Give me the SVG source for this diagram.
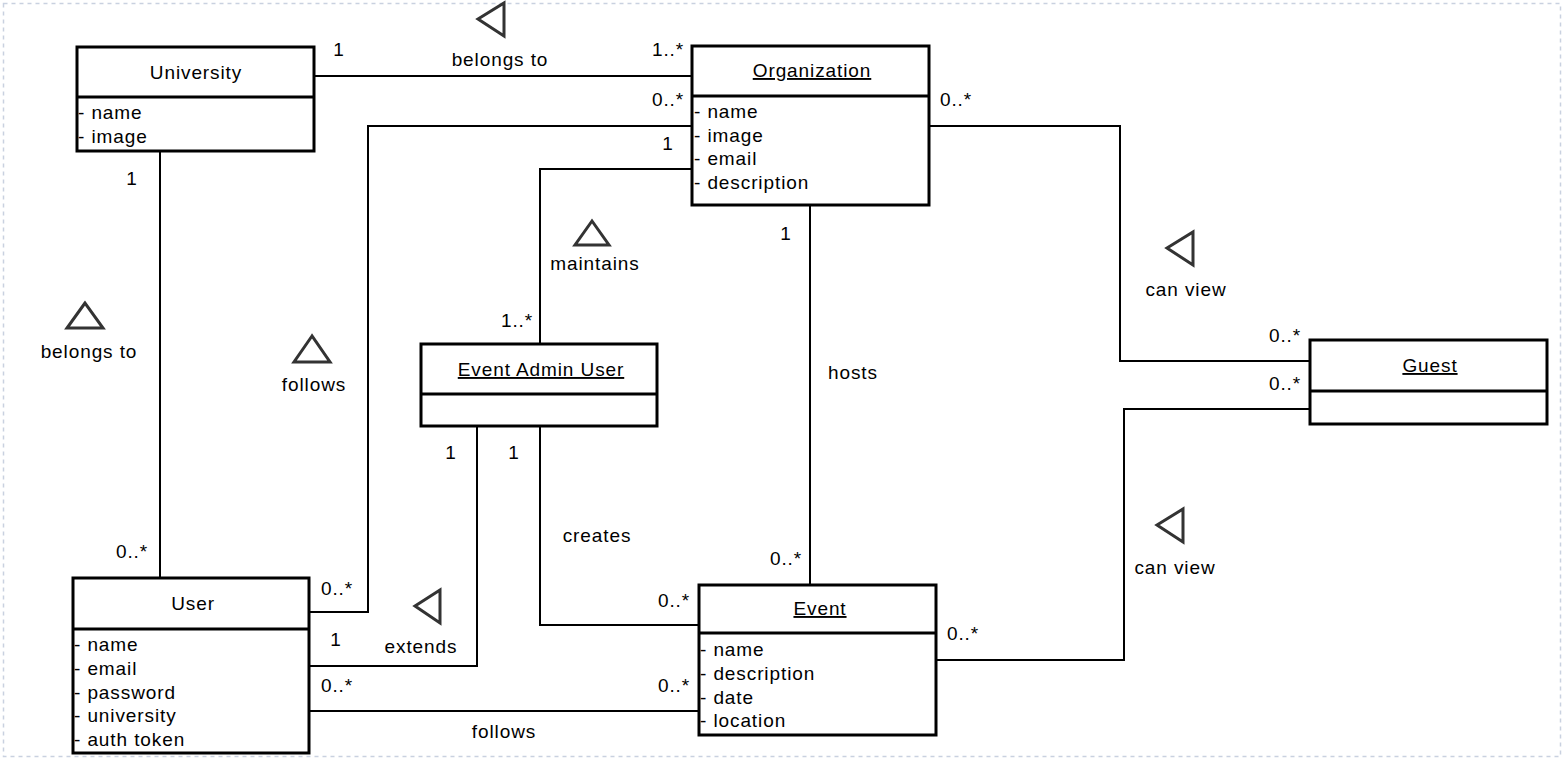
<svg xmlns="http://www.w3.org/2000/svg" width="1565" height="762" viewBox="0 0 1565 762">
<style>
.box{fill:#fff;stroke:#000;stroke-width:3}
.div{stroke:#000;stroke-width:3}
.t{font-family:"Liberation Sans",Arial,sans-serif;font-size:19px;fill:#000;letter-spacing:0.9px}
.c{text-anchor:middle}
.u{text-decoration:underline}
.ln{fill:none;stroke:#000;stroke-width:2}
.tri{fill:#fff;stroke:#333;stroke-width:3;stroke-linejoin:miter}
</style>
<rect x="3.5" y="3.5" width="1557" height="753" fill="none" stroke="#c9d1e0" stroke-width="1.5" stroke-dasharray="4 4"/>
<g id="connectors">
<path class="ln" d="M314 76 H692"/>
<path class="ln" d="M160 152 V578"/>
<path class="ln" d="M310 612 H368 V126 H692"/>
<path class="ln" d="M692 169 H540 V344"/>
<path class="ln" d="M810 205 V585"/>
<path class="ln" d="M929 126 H1120 V361 H1310"/>
<path class="ln" d="M1310 409 H1124 V660 H936"/>
<path class="ln" d="M477 426 V666 H310"/>
<path class="ln" d="M540 426 V625 H699"/>
<path class="ln" d="M310 711 H699"/>
<polygon class="tri" points="478,19 504,3 504,36"/>
<polygon class="tri" points="85,303 67,328 103,328"/>
<polygon class="tri" points="312,336 294,362 330,362"/>
<polygon class="tri" points="592,221 575,245 609,245"/>
<polygon class="tri" points="1167,248 1193,232 1193,265"/>
<polygon class="tri" points="1157,525 1183,509 1183,542"/>
<polygon class="tri" points="415,606 440,590 440,623"/>
<g class="t c">
<text x="339" y="56">1</text>
<text x="500" y="66">belongs to</text>
<text x="668" y="56">1..*</text>
<text x="668" y="106">0..*</text>
<text x="668" y="150">1</text>
<text x="956" y="106">0..*</text>
<text x="132" y="185">1</text>
<text x="89" y="358">belongs to</text>
<text x="314" y="391">follows</text>
<text x="595" y="270">maintains</text>
<text x="517" y="327">1..*</text>
<text x="786" y="240">1</text>
<text x="853" y="379">hosts</text>
<text x="1186" y="296">can view</text>
<text x="1285" y="342">0..*</text>
<text x="1285" y="390">0..*</text>
<text x="451" y="459">1</text>
<text x="514" y="459">1</text>
<text x="597" y="542">creates</text>
<text x="786" y="565">0..*</text>
<text x="1175" y="574">can view</text>
<text x="132" y="558">0..*</text>
<text x="337" y="595">0..*</text>
<text x="674" y="607">0..*</text>
<text x="336" y="646">1</text>
<text x="421" y="653">extends</text>
<text x="963" y="640">0..*</text>
<text x="337" y="692">0..*</text>
<text x="674" y="692">0..*</text>
<text x="504" y="738">follows</text>
</g>
</g>
<g id="University">
<rect class="box" x="77" y="47" width="237" height="104"/>
<line class="div" x1="77" y1="97" x2="314" y2="97"/>
<text class="t c" x="196" y="79">University</text>
<text class="t" x="78" y="119">- name</text>
<text class="t" x="78" y="143">- image</text>
</g>
<g id="Organization">
<rect class="box" x="692" y="46" width="237" height="159"/>
<line class="div" x1="692" y1="96" x2="929" y2="96"/>
<text class="t c u" x="812" y="77">Organization</text>
<text class="t" x="694" y="118">- name</text>
<text class="t" x="694" y="142">- image</text>
<text class="t" x="694" y="165">- email</text>
<text class="t" x="694" y="189">- description</text>
</g>
<g id="EventAdminUser">
<rect class="box" x="421" y="344" width="236" height="82"/>
<line class="div" x1="421" y1="394" x2="657" y2="394"/>
<text class="t c u" x="541" y="376">Event Admin User</text>
</g>
<g id="User">
<rect class="box" x="73" y="578" width="236" height="175"/>
<line class="div" x1="73" y1="629" x2="309" y2="629"/>
<text class="t c" x="193" y="610">User</text>
<text class="t" x="74" y="651">- name</text>
<text class="t" x="74" y="675">- email</text>
<text class="t" x="74" y="699">- password</text>
<text class="t" x="74" y="722">- university</text>
<text class="t" x="74" y="746">- auth token</text>
</g>
<g id="Event">
<rect class="box" x="699" y="585" width="237" height="150"/>
<line class="div" x1="699" y1="633" x2="936" y2="633"/>
<text class="t c u" x="820" y="615">Event</text>
<text class="t" x="700" y="656">- name</text>
<text class="t" x="700" y="680">- description</text>
<text class="t" x="700" y="704">- date</text>
<text class="t" x="700" y="727">- location</text>
</g>
<g id="Guest">
<rect class="box" x="1310" y="340" width="237" height="84"/>
<line class="div" x1="1310" y1="391" x2="1547" y2="391"/>
<text class="t c u" x="1430" y="372">Guest</text>
</g>
</svg>
